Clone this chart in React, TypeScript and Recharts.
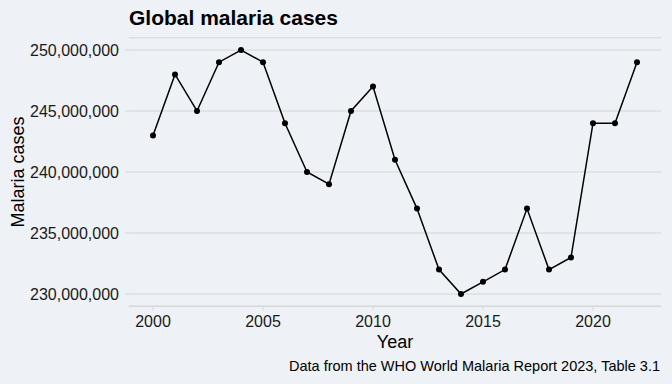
import { LineChart, Line, XAxis, YAxis, CartesianGrid } from 'recharts'

// WHO World Malaria Report 2023, Table 3.1
const years = [2000, 2001, 2002, 2003, 2004, 2005, 2006, 2007, 2008, 2009, 2010, 2011,
  2012, 2013, 2014, 2015, 2016, 2017, 2018, 2019, 2020, 2021, 2022]
const cases = [243e6, 248e6, 245e6, 249e6, 250e6, 249e6, 244e6, 240e6, 239e6, 245e6, 247e6, 241e6,
  237e6, 232e6, 230e6, 231e6, 232e6, 237e6, 232e6, 233e6, 244e6, 244e6, 249e6]
const xTicks = [2000, 2005, 2010, 2015, 2020]
const yTicks = [230e6, 235e6, 240e6, 245e6, 250e6]

const data = years.map((year, i) => ({ year, cases: cases[i] }))

const BG = '#eef1f6'
const GRID = '#d4d6d9'
const FONT = '"Liberation Sans", Arial, sans-serif'

export default function App() {
  return (
    <div style={{ position: 'absolute', left: 0, top: 0, width: 672, height: 384, background: BG, fontFamily: FONT, color: '#000' }}>
      <div style={{ position: 'absolute', left: 129, top: 7.2, fontSize: 21, lineHeight: '21px', fontWeight: 'bold', whiteSpace: 'nowrap' }}>
        Global malaria cases
      </div>
      {/* x axis takes 30px of the bottom space */}
      <LineChart width={672} height={384} data={data} margin={{ top: 37.8, right: 10.8, bottom: 47.8, left: 0 }}>
        <CartesianGrid horizontal vertical={false} stroke={GRID} strokeWidth={1} />
        <XAxis
          dataKey="year" type="number" domain={[1998.9, 2023.1]} ticks={xTicks} allowDataOverflow
          height={30} stroke={GRID} tickSize={4} tickMargin={5}
          tick={{ fontSize: 16, fill: '#1a1a1a', fontFamily: FONT }}
        />
        <YAxis
          dataKey="cases" type="number" domain={[229e6, 251e6]} ticks={yTicks} allowDataOverflow
          width={128.8} axisLine={false} tickLine={{ stroke: GRID }} tickSize={4} tickMargin={5.8}
          tick={{ fontSize: 16, fill: '#1a1a1a', fontFamily: FONT }}
          tickFormatter={(v: number) => v.toLocaleString('en-US')}
        />
        <Line
          type="linear" dataKey="cases" stroke="#000" strokeWidth={1.5}
          dot={{ r: 3, fill: '#000', stroke: '#000', strokeWidth: 0 }}
          isAnimationActive={false}
        />
      </LineChart>
      <div style={{ position: 'absolute', left: 18.3, top: 172, fontSize: 18, lineHeight: '18px', whiteSpace: 'nowrap', transform: 'translate(-50%, -50%) rotate(-90deg)' }}>
        Malaria cases
      </div>
      <div style={{ position: 'absolute', left: 395, top: 332.8, fontSize: 18, lineHeight: '18px', whiteSpace: 'nowrap', transform: 'translateX(-50%)' }}>
        Year
      </div>
      <div style={{ position: 'absolute', right: 12, top: 358.7, fontSize: 14.5, lineHeight: '14.5px', whiteSpace: 'nowrap' }}>
        Data from the WHO World Malaria Report 2023, Table 3.1
      </div>
    </div>
  )
}
